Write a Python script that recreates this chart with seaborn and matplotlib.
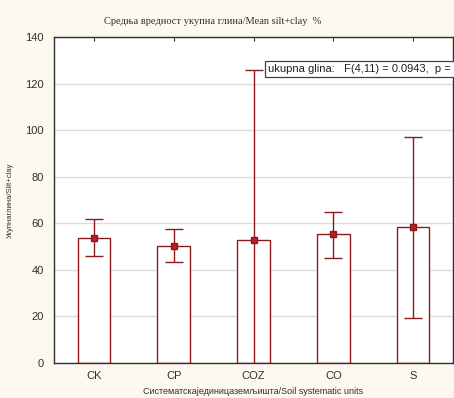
import matplotlib
matplotlib.use("Agg")
import matplotlib.pyplot as plt
import seaborn as sns
import pandas as pd
import numpy as np

categories = ["CK", "CP", "COZ", "CO", "S"]
means = [53.6, 50.2, 52.8, 55.4, 58.4]
upper = [61.8, 57.5, 125.7, 64.8, 97.0]
lower = [45.9, 43.3, -20.0, 45.0, 19.3]
yticks = [0, 20, 40, 60, 80, 100, 120, 140]

title = "Средња вредност укупна глина/Mean silt+clay  %"
xlabel = "Систематскајединицаземљишта/Soil systematic units"
ylabel = "Укупнаглина/Silt+clay"
annot = "ukupna glina:   F(4,11) = 0.0943,  p = 0.9818"

sns.set_style("white")
plt.rcParams["font.family"] = ["Liberation Sans", "DejaVu Sans"]

red = "#8b1a1a"
fig = plt.figure(figsize=(4.54, 3.98), dpi=100, facecolor="#fdf9ee")
ax = fig.add_axes([54/454, 35/398, 399/454, 326/398])
ax.set_facecolor("white")

df = pd.DataFrame({"cat": categories, "val": means})
sns.barplot(data=df, x="cat", y="val", ax=ax, color="white", edgecolor=red,
            linewidth=1.0, width=0.41, errorbar=None, zorder=2)
for p in ax.patches:
    p.set_facecolor("white")

x = np.arange(len(categories))
m = np.array(means)
yerr = [m - np.array(lower), np.array(upper) - m]
ax.errorbar(x, m, yerr=yerr, fmt="s", color=red, ecolor=red, elinewidth=1.0,
            capsize=6.5, capthick=1.0, markersize=4, markerfacecolor="#b22222",
            markeredgecolor=red, zorder=3)

ax.set_ylim(0, 140)
ax.set_xlim(-0.5, 4.5)
ax.set_yticks(yticks)
ax.yaxis.grid(True, color="#dcdcdc", linewidth=1.0, zorder=0)
ax.set_axisbelow(True)
for s in ax.spines.values():
    s.set_visible(True)
    s.set_color("#303030")
    s.set_linewidth(1.0)
ax.tick_params(axis="y", direction="out", length=4, labelsize=8, color="#303030",
               right=True, labelcolor="#303030")
ax.tick_params(axis="x", direction="in", length=3, labelsize=8, top=True, color="#303030",
               labelcolor="#303030", pad=6)

ax.set_xlabel(xlabel, fontsize=6.5, family=["Liberation Sans Narrow", "Liberation Sans"],
              labelpad=4, color="#303030")
ax.set_ylabel(ylabel, fontsize=5.5, family=["Liberation Sans Narrow", "Liberation Sans"],
              labelpad=8, color="#303030")
fig.text(213/454, 1 - 22/398, title, ha="center", va="center", fontsize=7.5,
         family=["Liberation Serif", "DejaVu Serif"], color="#303030")

fig.text(268/454, 1 - 69/398, annot, ha="left", va="center", fontsize=8,
         color="#202020",
         bbox=dict(boxstyle="square,pad=0.25", facecolor="white", edgecolor="#404040",
                   linewidth=0.9))

fig.savefig("out.png", dpi=100, facecolor=fig.get_facecolor())
